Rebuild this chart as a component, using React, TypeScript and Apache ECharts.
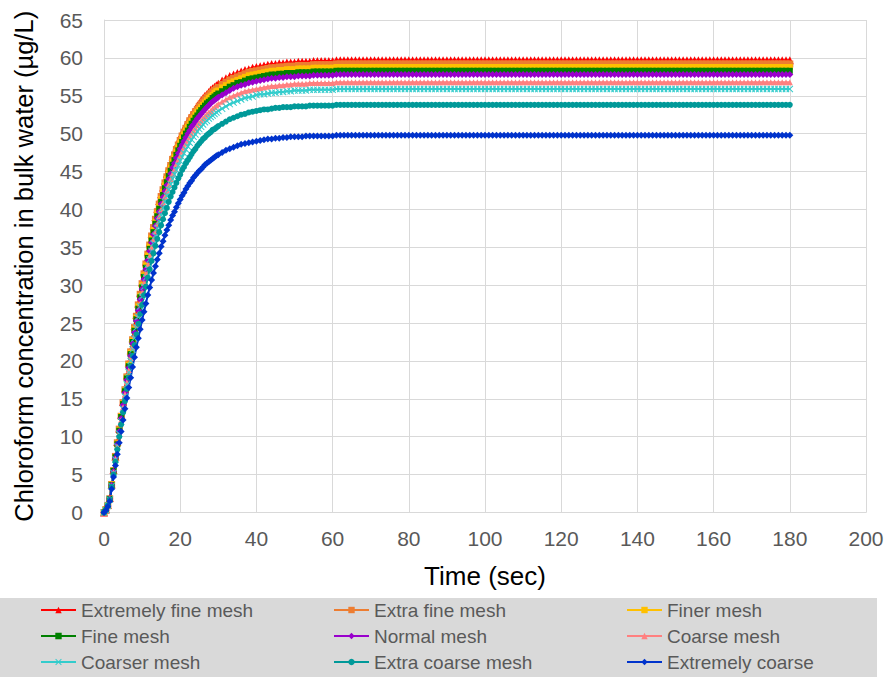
import { useEffect, useRef } from 'react';
import * as echarts from 'echarts';

// Time points (sec)
const TIME = [
  0, 0.5, 1, 1.5, 2, 2.5, 3, 3.5, 4, 4.5,
  5, 5.5, 6, 6.5, 7, 7.5, 8, 8.5, 9, 9.5,
  10, 10.5, 11, 11.5, 12, 12.5, 13, 13.5, 14, 14.5,
  15, 15.5, 16, 16.5, 17, 17.5, 18, 18.5, 19, 19.5,
  20, 20.5, 21, 21.5, 22, 22.5, 23, 23.5, 24, 24.5,
  25, 25.5, 26, 26.5, 27, 27.5, 28, 28.5, 29, 29.5,
  30,
  31, 32, 33, 34, 35, 36, 37, 38, 39, 40,
  41, 42, 43, 44, 45, 46, 47, 48, 49, 50,
  51, 52, 53, 54, 55, 56, 57, 58, 59, 60,
  61, 62, 63, 64, 65, 66, 67, 68, 69, 70,
  71, 72, 73, 74, 75, 76, 77, 78, 79, 80,
  81, 82, 83, 84, 85, 86, 87, 88, 89, 90,
  91, 92, 93, 94, 95, 96, 97, 98, 99, 100,
  101, 102, 103, 104, 105, 106, 107, 108, 109, 110,
  111, 112, 113, 114, 115, 116, 117, 118, 119, 120,
  121, 122, 123, 124, 125, 126, 127, 128, 129, 130,
  131, 132, 133, 134, 135, 136, 137, 138, 139, 140,
  141, 142, 143, 144, 145, 146, 147, 148, 149, 150,
  151, 152, 153, 154, 155, 156, 157, 158, 159, 160,
  161, 162, 163, 164, 165, 166, 167, 168, 169, 170,
  171, 172, 173, 174, 175, 176, 177, 178, 179, 180,
];

const EXTREMELY_FINE = [
  0, 0.4, 1.0, 1.9, 3.7, 5.6, 7.4, 9.3, 11.1, 12.9,
  14.6, 16.4, 18.1, 19.8, 21.4, 23.0, 24.6, 26.1, 27.6, 29.0,
  30.4, 31.8, 33.1, 34.4, 35.6, 36.8, 37.9, 39.0, 40.1, 41.1,
  42.0, 42.9, 43.8, 44.7, 45.5, 46.2, 47.0, 47.6, 48.3, 48.9,
  49.5, 50.1, 50.6, 51.2, 51.6, 52.1, 52.5, 52.9, 53.3, 53.7,
  54.0, 54.4, 54.7, 55.0, 55.2, 55.5, 55.8, 56.0, 56.2, 56.4,
  56.6,
  57.0, 57.3, 57.6, 57.8, 58.0, 58.2, 58.4, 58.5, 58.7, 58.8,
  58.9, 59.0, 59.1, 59.2, 59.2, 59.3, 59.3, 59.4, 59.4, 59.4,
  59.5, 59.5, 59.5, 59.5, 59.6, 59.6, 59.6, 59.6, 59.6, 59.6,
  59.7, 59.7, 59.7, 59.7, 59.7, 59.7, 59.7, 59.7, 59.7, 59.7,
  59.7, 59.7, 59.7, 59.7, 59.7, 59.7, 59.7, 59.7, 59.7, 59.7,
  59.7, 59.7, 59.7, 59.7, 59.7, 59.7, 59.7, 59.7, 59.7, 59.7,
  59.7, 59.7, 59.7, 59.7, 59.7, 59.7, 59.7, 59.7, 59.7, 59.7,
  59.7, 59.7, 59.7, 59.7, 59.7, 59.7, 59.7, 59.7, 59.7, 59.7,
  59.7, 59.7, 59.7, 59.7, 59.7, 59.7, 59.7, 59.7, 59.7, 59.7,
  59.7, 59.7, 59.7, 59.7, 59.7, 59.7, 59.7, 59.7, 59.7, 59.7,
  59.7, 59.7, 59.7, 59.7, 59.7, 59.7, 59.7, 59.7, 59.7, 59.7,
  59.7, 59.7, 59.7, 59.7, 59.7, 59.7, 59.7, 59.7, 59.7, 59.7,
  59.7, 59.7, 59.7, 59.7, 59.7, 59.7, 59.7, 59.7, 59.7, 59.7,
  59.7, 59.7, 59.7, 59.7, 59.7, 59.7, 59.7, 59.7, 59.7, 59.7,
  59.7, 59.7, 59.7, 59.7, 59.7, 59.7, 59.7, 59.7, 59.7, 59.7,
];

const EXTRA_FINE = [
  0, 0.4, 0.9, 1.8, 3.7, 5.5, 7.4, 9.2, 11.0, 12.7,
  14.5, 16.2, 17.9, 19.6, 21.2, 22.8, 24.4, 25.9, 27.4, 28.8,
  30.2, 31.5, 32.8, 34.1, 35.3, 36.5, 37.6, 38.7, 39.7, 40.7,
  41.7, 42.6, 43.5, 44.3, 45.1, 45.8, 46.6, 47.2, 47.9, 48.5,
  49.1, 49.7, 50.2, 50.7, 51.2, 51.7, 52.1, 52.5, 52.9, 53.2,
  53.6, 53.9, 54.2, 54.5, 54.8, 55.0, 55.3, 55.5, 55.7, 55.9,
  56.1,
  56.5, 56.8, 57.1, 57.3, 57.5, 57.7, 57.9, 58.1, 58.2, 58.3,
  58.4, 58.5, 58.6, 58.7, 58.7, 58.8, 58.8, 58.9, 58.9, 58.9,
  59.0, 59.0, 59.0, 59.0, 59.1, 59.1, 59.1, 59.1, 59.1, 59.1,
  59.2, 59.2, 59.2, 59.2, 59.2, 59.2, 59.2, 59.2, 59.2, 59.2,
  59.2, 59.2, 59.2, 59.2, 59.2, 59.2, 59.2, 59.2, 59.2, 59.2,
  59.2, 59.2, 59.2, 59.2, 59.2, 59.2, 59.2, 59.2, 59.2, 59.2,
  59.2, 59.2, 59.2, 59.2, 59.2, 59.2, 59.2, 59.2, 59.2, 59.2,
  59.2, 59.2, 59.2, 59.2, 59.2, 59.2, 59.2, 59.2, 59.2, 59.2,
  59.2, 59.2, 59.2, 59.2, 59.2, 59.2, 59.2, 59.2, 59.2, 59.2,
  59.2, 59.2, 59.2, 59.2, 59.2, 59.2, 59.2, 59.2, 59.2, 59.2,
  59.2, 59.2, 59.2, 59.2, 59.2, 59.2, 59.2, 59.2, 59.2, 59.2,
  59.2, 59.2, 59.2, 59.2, 59.2, 59.2, 59.2, 59.2, 59.2, 59.2,
  59.2, 59.2, 59.2, 59.2, 59.2, 59.2, 59.2, 59.2, 59.2, 59.2,
  59.2, 59.2, 59.2, 59.2, 59.2, 59.2, 59.2, 59.2, 59.2, 59.2,
  59.2, 59.2, 59.2, 59.2, 59.2, 59.2, 59.2, 59.2, 59.2, 59.2,
];

const FINER = [
  0, 0.4, 0.9, 1.8, 3.7, 5.5, 7.3, 9.1, 10.9, 12.7,
  14.4, 16.1, 17.8, 19.5, 21.1, 22.7, 24.2, 25.7, 27.2, 28.6,
  30.0, 31.3, 32.6, 33.9, 35.1, 36.2, 37.3, 38.4, 39.5, 40.4,
  41.4, 42.3, 43.2, 44.0, 44.8, 45.5, 46.3, 46.9, 47.6, 48.2,
  48.8, 49.4, 49.9, 50.4, 50.9, 51.3, 51.7, 52.1, 52.5, 52.9,
  53.2, 53.5, 53.8, 54.1, 54.4, 54.7, 54.9, 55.1, 55.4, 55.6,
  55.7,
  56.1, 56.4, 56.7, 56.9, 57.1, 57.3, 57.5, 57.7, 57.8, 57.9,
  58.0, 58.1, 58.2, 58.3, 58.3, 58.4, 58.4, 58.5, 58.5, 58.5,
  58.6, 58.6, 58.6, 58.6, 58.7, 58.7, 58.7, 58.7, 58.7, 58.7,
  58.8, 58.8, 58.8, 58.8, 58.8, 58.8, 58.8, 58.8, 58.8, 58.8,
  58.8, 58.8, 58.8, 58.8, 58.8, 58.8, 58.8, 58.8, 58.8, 58.8,
  58.8, 58.8, 58.8, 58.8, 58.8, 58.8, 58.8, 58.8, 58.8, 58.8,
  58.8, 58.8, 58.8, 58.8, 58.8, 58.8, 58.8, 58.8, 58.8, 58.8,
  58.8, 58.8, 58.8, 58.8, 58.8, 58.8, 58.8, 58.8, 58.8, 58.8,
  58.8, 58.8, 58.8, 58.8, 58.8, 58.8, 58.8, 58.8, 58.8, 58.8,
  58.8, 58.8, 58.8, 58.8, 58.8, 58.8, 58.8, 58.8, 58.8, 58.8,
  58.8, 58.8, 58.8, 58.8, 58.8, 58.8, 58.8, 58.8, 58.8, 58.8,
  58.8, 58.8, 58.8, 58.8, 58.8, 58.8, 58.8, 58.8, 58.8, 58.8,
  58.8, 58.8, 58.8, 58.8, 58.8, 58.8, 58.8, 58.8, 58.8, 58.8,
  58.8, 58.8, 58.8, 58.8, 58.8, 58.8, 58.8, 58.8, 58.8, 58.8,
  58.8, 58.8, 58.8, 58.8, 58.8, 58.8, 58.8, 58.8, 58.8, 58.8,
];

const FINE = [
  0, 0.3, 0.9, 1.8, 3.6, 5.5, 7.3, 9.0, 10.8, 12.6,
  14.3, 16.0, 17.7, 19.3, 20.9, 22.5, 24.0, 25.5, 26.9, 28.4,
  29.7, 31.1, 32.3, 33.6, 34.8, 35.9, 37.0, 38.1, 39.1, 40.1,
  41.0, 41.9, 42.8, 43.6, 44.4, 45.1, 45.9, 46.5, 47.2, 47.8,
  48.4, 48.9, 49.5, 50.0, 50.4, 50.9, 51.3, 51.7, 52.1, 52.4,
  52.8, 53.1, 53.4, 53.7, 54.0, 54.2, 54.4, 54.7, 54.9, 55.1,
  55.3,
  55.6, 55.9, 56.2, 56.4, 56.7, 56.8, 57.0, 57.2, 57.3, 57.4,
  57.5, 57.6, 57.7, 57.8, 57.8, 57.9, 57.9, 58.0, 58.0, 58.0,
  58.1, 58.1, 58.1, 58.1, 58.2, 58.2, 58.2, 58.2, 58.2, 58.2,
  58.3, 58.3, 58.3, 58.3, 58.3, 58.3, 58.3, 58.3, 58.3, 58.3,
  58.3, 58.3, 58.3, 58.3, 58.3, 58.3, 58.3, 58.3, 58.3, 58.3,
  58.3, 58.3, 58.3, 58.3, 58.3, 58.3, 58.3, 58.3, 58.3, 58.3,
  58.3, 58.3, 58.3, 58.3, 58.3, 58.3, 58.3, 58.3, 58.3, 58.3,
  58.3, 58.3, 58.3, 58.3, 58.3, 58.3, 58.3, 58.3, 58.3, 58.3,
  58.3, 58.3, 58.3, 58.3, 58.3, 58.3, 58.3, 58.3, 58.3, 58.3,
  58.3, 58.3, 58.3, 58.3, 58.3, 58.3, 58.3, 58.3, 58.3, 58.3,
  58.3, 58.3, 58.3, 58.3, 58.3, 58.3, 58.3, 58.3, 58.3, 58.3,
  58.3, 58.3, 58.3, 58.3, 58.3, 58.3, 58.3, 58.3, 58.3, 58.3,
  58.3, 58.3, 58.3, 58.3, 58.3, 58.3, 58.3, 58.3, 58.3, 58.3,
  58.3, 58.3, 58.3, 58.3, 58.3, 58.3, 58.3, 58.3, 58.3, 58.3,
  58.3, 58.3, 58.3, 58.3, 58.3, 58.3, 58.3, 58.3, 58.3, 58.3,
];

const NORMAL = [
  0, 0.3, 0.9, 1.8, 3.6, 5.4, 7.2, 9.0, 10.7, 12.4,
  14.2, 15.8, 17.5, 19.1, 20.7, 22.3, 23.8, 25.3, 26.7, 28.1,
  29.5, 30.8, 32.1, 33.3, 34.5, 35.6, 36.7, 37.8, 38.8, 39.7,
  40.7, 41.6, 42.4, 43.2, 44.0, 44.7, 45.5, 46.1, 46.8, 47.4,
  48.0, 48.5, 49.0, 49.5, 50.0, 50.4, 50.9, 51.2, 51.6, 52.0,
  52.3, 52.6, 52.9, 53.2, 53.5, 53.7, 54.0, 54.2, 54.4, 54.6,
  54.8,
  55.1, 55.4, 55.7, 56.0, 56.2, 56.4, 56.5, 56.7, 56.8, 56.9,
  57.0, 57.1, 57.2, 57.3, 57.3, 57.4, 57.4, 57.5, 57.5, 57.5,
  57.6, 57.6, 57.6, 57.6, 57.7, 57.7, 57.7, 57.7, 57.7, 57.7,
  57.8, 57.8, 57.8, 57.8, 57.8, 57.8, 57.8, 57.8, 57.8, 57.8,
  57.8, 57.8, 57.8, 57.8, 57.8, 57.8, 57.8, 57.8, 57.8, 57.8,
  57.8, 57.8, 57.8, 57.8, 57.8, 57.8, 57.8, 57.8, 57.8, 57.8,
  57.8, 57.8, 57.8, 57.8, 57.8, 57.8, 57.8, 57.8, 57.8, 57.8,
  57.8, 57.8, 57.8, 57.8, 57.8, 57.8, 57.8, 57.8, 57.8, 57.8,
  57.8, 57.8, 57.8, 57.8, 57.8, 57.8, 57.8, 57.8, 57.8, 57.8,
  57.8, 57.8, 57.8, 57.8, 57.8, 57.8, 57.8, 57.8, 57.8, 57.8,
  57.8, 57.8, 57.8, 57.8, 57.8, 57.8, 57.8, 57.8, 57.8, 57.8,
  57.8, 57.8, 57.8, 57.8, 57.8, 57.8, 57.8, 57.8, 57.8, 57.8,
  57.8, 57.8, 57.8, 57.8, 57.8, 57.8, 57.8, 57.8, 57.8, 57.8,
  57.8, 57.8, 57.8, 57.8, 57.8, 57.8, 57.8, 57.8, 57.8, 57.8,
  57.8, 57.8, 57.8, 57.8, 57.8, 57.8, 57.8, 57.8, 57.8, 57.8,
];

const COARSE = [
  0, 0.3, 0.9, 1.8, 3.5, 5.3, 7.1, 8.8, 10.5, 12.2,
  13.9, 15.6, 17.2, 18.8, 20.4, 21.9, 23.4, 24.8, 26.2, 27.6,
  29.0, 30.3, 31.5, 32.7, 33.9, 35.0, 36.1, 37.1, 38.1, 39.1,
  40.0, 40.9, 41.7, 42.5, 43.3, 44.0, 44.7, 45.3, 46.0, 46.6,
  47.1, 47.7, 48.2, 48.7, 49.1, 49.6, 50.0, 50.4, 50.7, 51.1,
  51.4, 51.7, 52.0, 52.3, 52.6, 52.8, 53.0, 53.3, 53.5, 53.7,
  53.9,
  54.2, 54.5, 54.8, 55.0, 55.2, 55.4, 55.6, 55.7, 55.8, 55.9,
  56.0, 56.1, 56.2, 56.3, 56.3, 56.4, 56.4, 56.5, 56.5, 56.6,
  56.6, 56.6, 56.6, 56.7, 56.7, 56.7, 56.7, 56.7, 56.7, 56.7,
  56.8, 56.8, 56.8, 56.8, 56.8, 56.8, 56.8, 56.8, 56.8, 56.8,
  56.8, 56.8, 56.8, 56.8, 56.8, 56.8, 56.8, 56.8, 56.8, 56.8,
  56.8, 56.8, 56.8, 56.8, 56.8, 56.8, 56.8, 56.8, 56.8, 56.8,
  56.8, 56.8, 56.8, 56.8, 56.8, 56.8, 56.8, 56.8, 56.8, 56.8,
  56.8, 56.8, 56.8, 56.8, 56.8, 56.8, 56.8, 56.8, 56.8, 56.8,
  56.8, 56.8, 56.8, 56.8, 56.8, 56.8, 56.8, 56.8, 56.8, 56.8,
  56.8, 56.8, 56.8, 56.8, 56.8, 56.8, 56.8, 56.8, 56.8, 56.8,
  56.8, 56.8, 56.8, 56.8, 56.8, 56.8, 56.8, 56.8, 56.8, 56.8,
  56.8, 56.8, 56.8, 56.8, 56.8, 56.8, 56.8, 56.8, 56.8, 56.8,
  56.8, 56.8, 56.8, 56.8, 56.8, 56.8, 56.8, 56.8, 56.8, 56.8,
  56.8, 56.8, 56.8, 56.8, 56.8, 56.8, 56.8, 56.8, 56.8, 56.8,
  56.8, 56.8, 56.8, 56.8, 56.8, 56.8, 56.8, 56.8, 56.8, 56.8,
];

const COARSER = [
  0, 0.3, 0.9, 1.7, 3.5, 5.2, 7.0, 8.7, 10.4, 12.0,
  13.7, 15.3, 16.9, 18.5, 20.0, 21.5, 23.0, 24.4, 25.8, 27.2,
  28.5, 29.8, 31.0, 32.2, 33.4, 34.5, 35.5, 36.5, 37.5, 38.4,
  39.3, 40.2, 41.0, 41.8, 42.6, 43.3, 44.0, 44.6, 45.2, 45.8,
  46.4, 46.9, 47.4, 47.9, 48.3, 48.8, 49.2, 49.6, 49.9, 50.3,
  50.6, 50.9, 51.2, 51.5, 51.7, 52.0, 52.2, 52.4, 52.6, 52.8,
  53.0,
  53.3, 53.6, 53.9, 54.1, 54.3, 54.5, 54.7, 54.8, 54.9, 55.1,
  55.2, 55.2, 55.3, 55.4, 55.4, 55.5, 55.5, 55.6, 55.6, 55.7,
  55.7, 55.7, 55.7, 55.8, 55.8, 55.8, 55.8, 55.8, 55.8, 55.8,
  55.9, 55.9, 55.9, 55.9, 55.9, 55.9, 55.9, 55.9, 55.9, 55.9,
  55.9, 55.9, 55.9, 55.9, 55.9, 55.9, 55.9, 55.9, 55.9, 55.9,
  55.9, 55.9, 55.9, 55.9, 55.9, 55.9, 55.9, 55.9, 55.9, 55.9,
  55.9, 55.9, 55.9, 55.9, 55.9, 55.9, 55.9, 55.9, 55.9, 55.9,
  55.9, 55.9, 55.9, 55.9, 55.9, 55.9, 55.9, 55.9, 55.9, 55.9,
  55.9, 55.9, 55.9, 55.9, 55.9, 55.9, 55.9, 55.9, 55.9, 55.9,
  55.9, 55.9, 55.9, 55.9, 55.9, 55.9, 55.9, 55.9, 55.9, 55.9,
  55.9, 55.9, 55.9, 55.9, 55.9, 55.9, 55.9, 55.9, 55.9, 55.9,
  55.9, 55.9, 55.9, 55.9, 55.9, 55.9, 55.9, 55.9, 55.9, 55.9,
  55.9, 55.9, 55.9, 55.9, 55.9, 55.9, 55.9, 55.9, 55.9, 55.9,
  55.9, 55.9, 55.9, 55.9, 55.9, 55.9, 55.9, 55.9, 55.9, 55.9,
  55.9, 55.9, 55.9, 55.9, 55.9, 55.9, 55.9, 55.9, 55.9, 55.9,
];

const EXTRA_COARSE = [
  0, 0.3, 0.9, 1.7, 3.4, 5.0, 6.7, 8.3, 10.0, 11.6,
  13.2, 14.7, 16.3, 17.8, 19.3, 20.7, 22.1, 23.5, 24.9, 26.2,
  27.4, 28.7, 29.8, 31.0, 32.1, 33.2, 34.2, 35.2, 36.1, 37.0,
  37.9, 38.7, 39.5, 40.2, 41.0, 41.7, 42.3, 42.9, 43.5, 44.1,
  44.6, 45.2, 45.6, 46.1, 46.5, 46.9, 47.3, 47.7, 48.0, 48.4,
  48.7, 49.0, 49.3, 49.5, 49.8, 50.0, 50.2, 50.5, 50.6, 50.8,
  51.0,
  51.3, 51.6, 51.9, 52.1, 52.3, 52.5, 52.6, 52.8, 52.9, 53.0,
  53.1, 53.2, 53.2, 53.3, 53.4, 53.4, 53.5, 53.5, 53.5, 53.6,
  53.6, 53.6, 53.6, 53.7, 53.7, 53.7, 53.7, 53.7, 53.7, 53.7,
  53.8, 53.8, 53.8, 53.8, 53.8, 53.8, 53.8, 53.8, 53.8, 53.8,
  53.8, 53.8, 53.8, 53.8, 53.8, 53.8, 53.8, 53.8, 53.8, 53.8,
  53.8, 53.8, 53.8, 53.8, 53.8, 53.8, 53.8, 53.8, 53.8, 53.8,
  53.8, 53.8, 53.8, 53.8, 53.8, 53.8, 53.8, 53.8, 53.8, 53.8,
  53.8, 53.8, 53.8, 53.8, 53.8, 53.8, 53.8, 53.8, 53.8, 53.8,
  53.8, 53.8, 53.8, 53.8, 53.8, 53.8, 53.8, 53.8, 53.8, 53.8,
  53.8, 53.8, 53.8, 53.8, 53.8, 53.8, 53.8, 53.8, 53.8, 53.8,
  53.8, 53.8, 53.8, 53.8, 53.8, 53.8, 53.8, 53.8, 53.8, 53.8,
  53.8, 53.8, 53.8, 53.8, 53.8, 53.8, 53.8, 53.8, 53.8, 53.8,
  53.8, 53.8, 53.8, 53.8, 53.8, 53.8, 53.8, 53.8, 53.8, 53.8,
  53.8, 53.8, 53.8, 53.8, 53.8, 53.8, 53.8, 53.8, 53.8, 53.8,
  53.8, 53.8, 53.8, 53.8, 53.8, 53.8, 53.8, 53.8, 53.8, 53.8,
];

const EXTREMELY_COARSE = [
  0, 0.3, 0.8, 1.5, 3.1, 4.7, 6.2, 7.7, 9.2, 10.7,
  12.2, 13.7, 15.1, 16.5, 17.8, 19.2, 20.5, 21.8, 23.0, 24.2,
  25.4, 26.5, 27.6, 28.7, 29.7, 30.7, 31.6, 32.5, 33.4, 34.2,
  35.1, 35.8, 36.6, 37.3, 37.9, 38.6, 39.2, 39.7, 40.3, 40.8,
  41.3, 41.8, 42.2, 42.7, 43.1, 43.5, 43.8, 44.2, 44.5, 44.8,
  45.1, 45.3, 45.6, 45.9, 46.1, 46.3, 46.5, 46.7, 46.9, 47.1,
  47.2,
  47.5, 47.8, 48.0, 48.2, 48.4, 48.6, 48.7, 48.8, 48.9, 49.0,
  49.1, 49.2, 49.3, 49.3, 49.4, 49.4, 49.5, 49.5, 49.6, 49.6,
  49.6, 49.6, 49.7, 49.7, 49.7, 49.7, 49.7, 49.7, 49.7, 49.7,
  49.8, 49.8, 49.8, 49.8, 49.8, 49.8, 49.8, 49.8, 49.8, 49.8,
  49.8, 49.8, 49.8, 49.8, 49.8, 49.8, 49.8, 49.8, 49.8, 49.8,
  49.8, 49.8, 49.8, 49.8, 49.8, 49.8, 49.8, 49.8, 49.8, 49.8,
  49.8, 49.8, 49.8, 49.8, 49.8, 49.8, 49.8, 49.8, 49.8, 49.8,
  49.8, 49.8, 49.8, 49.8, 49.8, 49.8, 49.8, 49.8, 49.8, 49.8,
  49.8, 49.8, 49.8, 49.8, 49.8, 49.8, 49.8, 49.8, 49.8, 49.8,
  49.8, 49.8, 49.8, 49.8, 49.8, 49.8, 49.8, 49.8, 49.8, 49.8,
  49.8, 49.8, 49.8, 49.8, 49.8, 49.8, 49.8, 49.8, 49.8, 49.8,
  49.8, 49.8, 49.8, 49.8, 49.8, 49.8, 49.8, 49.8, 49.8, 49.8,
  49.8, 49.8, 49.8, 49.8, 49.8, 49.8, 49.8, 49.8, 49.8, 49.8,
  49.8, 49.8, 49.8, 49.8, 49.8, 49.8, 49.8, 49.8, 49.8, 49.8,
  49.8, 49.8, 49.8, 49.8, 49.8, 49.8, 49.8, 49.8, 49.8, 49.8,
];

const SERIES_NAMES = [
  'Extremely fine mesh', 'Extra fine mesh', 'Finer mesh',
  'Fine mesh', 'Normal mesh', 'Coarse mesh',
  'Coarser mesh', 'Extra coarse mesh', 'Extremely coarse',
];
const SERIES_VALUES = [
  EXTREMELY_FINE, EXTRA_FINE, FINER,
  FINE, NORMAL, COARSE,
  COARSER, EXTRA_COARSE, EXTREMELY_COARSE,
];

const X_MARK = 'path://M0,1L1,0L5,4L9,0L10,1L6,5L10,9L9,10L5,6L1,10L0,9L4,5Z';

const STYLES = [
  { color: '#FF0000', symbol: 'triangle', size: 8 },
  { color: '#ED7D31', symbol: 'rect', size: 7 },
  { color: '#FFC000', symbol: 'rect', size: 6 },
  { color: '#008000', symbol: 'rect', size: 6 },
  { color: '#9900CC', symbol: 'diamond', size: 7 },
  { color: '#FF8080', symbol: 'triangle', size: 6 },
  { color: '#33CCCC', symbol: X_MARK, size: 7 },
  { color: '#009999', symbol: 'circle', size: 6 },
  { color: '#0033CC', symbol: 'diamond', size: 7 },
];

const FONT = "'Liberation Sans', Arial, sans-serif";

export default function App() {
  const ref = useRef<HTMLDivElement>(null);

  useEffect(() => {
    document.body.style.margin = '0';
    const chart = echarts.init(ref.current!, null, { renderer: 'svg' });

    const series = SERIES_NAMES.map((name, i) => ({
      name,
      type: 'line',
      data: TIME.map((t, k) => [t, SERIES_VALUES[i][k]]),
      symbol: STYLES[i].symbol,
      symbolSize: STYLES[i].size,
      showAllSymbol: true,
      color: STYLES[i].color,
      itemStyle: { color: STYLES[i].color },
      lineStyle: { color: STYLES[i].color, width: 2 },
      emphasis: { disabled: true },
    }));

    const legendBase = {
      orient: 'vertical',
      itemWidth: 35,
      itemHeight: 8,
      itemGap: 6,
      padding: 0,
      height: 80,
      textStyle: { fontFamily: FONT, fontSize: 19, color: '#595959', lineHeight: 20 },
      selectedMode: false,
      top: 600,
    };

    chart.setOption({
      animation: false,
      textStyle: { fontFamily: FONT },
      grid: { left: 104, right: 21, top: 20, bottom: 164.5, containLabel: false },
      graphic: [
        {
          type: 'rect',
          shape: { x: 0, y: 598, width: 877, height: 79 },
          style: { fill: '#D9D9D9' },
          silent: true,
          z: 0,
        },
      ],
      legend: [
        { ...legendBase, left: 40, data: [SERIES_NAMES[0], SERIES_NAMES[3], SERIES_NAMES[6]] },
        { ...legendBase, left: 333, data: [SERIES_NAMES[1], SERIES_NAMES[4], SERIES_NAMES[7]] },
        { ...legendBase, left: 626, data: [SERIES_NAMES[2], SERIES_NAMES[5], SERIES_NAMES[8]] },
      ],
      xAxis: {
        type: 'value',
        min: 0,
        max: 200,
        interval: 20,
        name: 'Time (sec)',
        nameLocation: 'middle',
        nameGap: 50,
        nameTextStyle: { fontFamily: FONT, fontSize: 26, color: '#000000' },
        axisLine: { show: true, lineStyle: { color: '#D9D9D9', width: 1 } },
        axisTick: { show: false },
        splitLine: { show: true, lineStyle: { color: '#D9D9D9', width: 1 } },
        axisLabel: { fontFamily: FONT, fontSize: 21, color: '#595959', margin: 15 },
      },
      yAxis: {
        type: 'value',
        min: 0,
        max: 65,
        interval: 5,
        name: 'Chloroform concentration in bulk water (µg/L)',
        nameLocation: 'middle',
        nameGap: 67,
        nameRotate: 90,
        nameTextStyle: { fontFamily: FONT, fontSize: 25.5, color: '#000000' },
        axisLine: { show: true, lineStyle: { color: '#D9D9D9', width: 1 } },
        axisTick: { show: false },
        splitLine: { show: true, lineStyle: { color: '#D9D9D9', width: 1 } },
        axisLabel: { fontFamily: FONT, fontSize: 21, color: '#595959', margin: 21 },
      },
      series,
    });

    return () => chart.dispose();
  }, []);

  return <div ref={ref} style={{ width: 887, height: 677 }} />;
}
